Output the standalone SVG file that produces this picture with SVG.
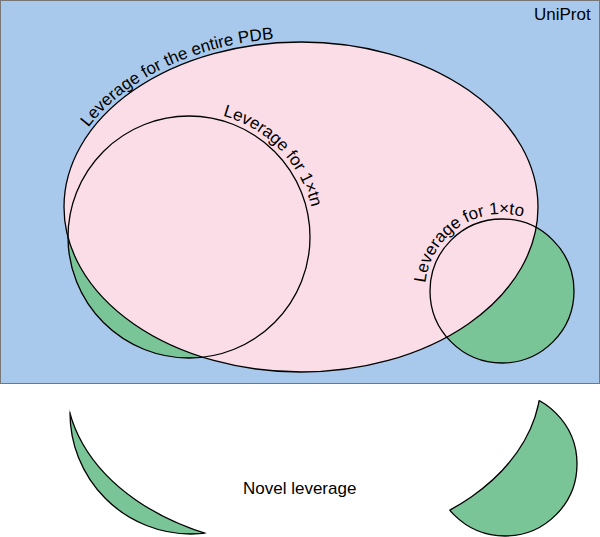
<svg xmlns="http://www.w3.org/2000/svg" xmlns:xlink="http://www.w3.org/1999/xlink" width="600" height="537" viewBox="0 0 600 537">
<style>
text{font-family:"Liberation Sans",Arial,sans-serif;font-size:17px;fill:#000}
.g{fill:#7ac597}
.o{fill:none;stroke:#000;stroke-width:1.3}
</style>
<defs>
<mask id="out"><rect x="0" y="0" width="600" height="537" fill="#fff"/><ellipse cx="301" cy="207" rx="237" ry="165" fill="#000"/></mask>
<clipPath id="c1"><circle cx="189" cy="237" r="121"/></clipPath>
<clipPath id="c2"><circle cx="502" cy="291" r="72"/></clipPath>
<path id="pe" d="M60,207 A241,169 0 0 1 542,207"/>
<path id="p1" d="M63,237 A126,126 0 0 1 315,237"/>
<path id="p2" d="M425,291 A77,77 0 0 1 579,291"/>
</defs>
<g id="uniprot"><rect x="0.5" y="0.5" width="599" height="383" fill="#a9c9ec" stroke="#777"/><text x="534" y="20">UniProt</text></g>
<g id="greens"><circle class="g" cx="189" cy="237" r="121"/><circle class="g" cx="502" cy="291" r="72"/></g>
<g id="pdb"><ellipse cx="301" cy="207" rx="237" ry="165" fill="#fbdde8" stroke="#000" stroke-width="1.3"/><text><textPath xlink:href="#pe" startOffset="86">Leverage for the entire PDB</textPath></text></g>
<g id="tn"><circle class="o" cx="189" cy="237" r="121"/><text><textPath xlink:href="#p1" startOffset="232">Leverage for 1×tn</textPath></text></g>
<g id="to"><circle class="o" cx="502" cy="291" r="72"/><text><textPath xlink:href="#p2" startOffset="8">Leverage for 1×to</textPath></text></g>
<g id="novel">
<g transform="translate(2,176)"><g mask="url(#out)"><circle class="g" cx="189" cy="237" r="121" stroke="#000" stroke-width="1.3"/></g><ellipse class="o" cx="301" cy="207" rx="237" ry="165" clip-path="url(#c1)"/></g>
<g transform="translate(3,173)"><g mask="url(#out)"><circle class="g" cx="502" cy="291" r="72" stroke="#000" stroke-width="1.3"/></g><ellipse class="o" cx="301" cy="207" rx="237" ry="165" clip-path="url(#c2)"/></g>
<text x="243" y="494">Novel leverage</text>
</g>
</svg>
